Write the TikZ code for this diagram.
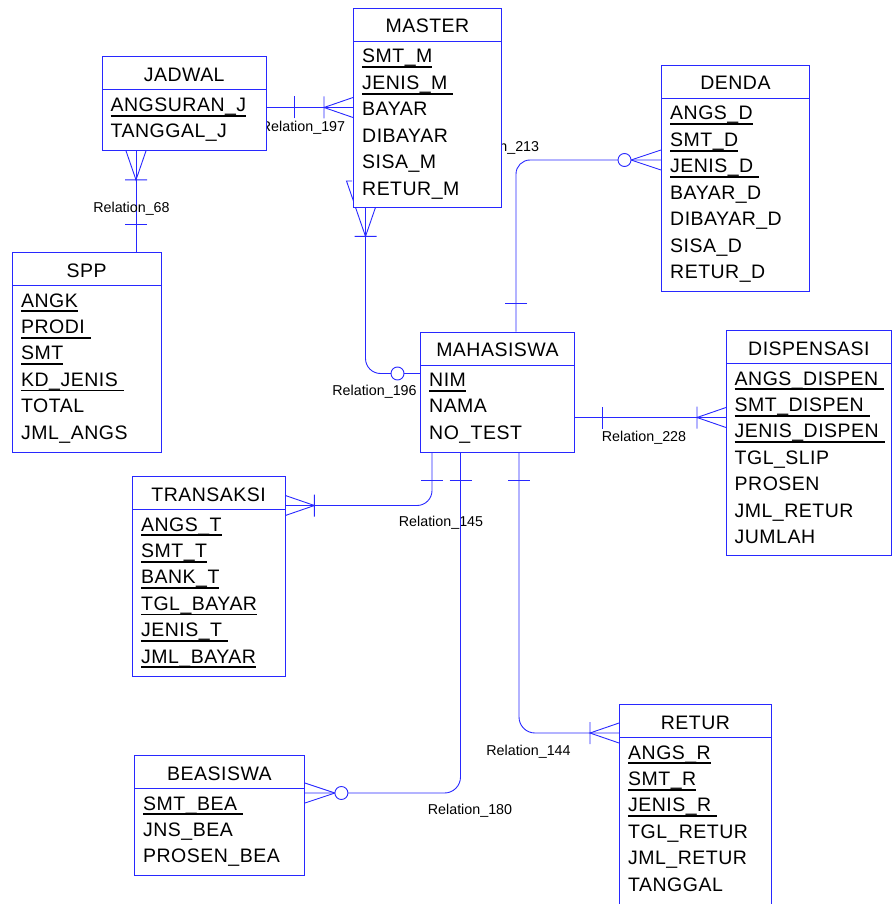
\documentclass[tikz,border=0pt]{standalone}
\usepackage{fontspec}
\setmainfont{Liberation Sans}
\newfontfamily\erfont[LetterSpace=2.5]{Liberation Sans}
\usepackage{xcolor}
\usetikzlibrary{positioning, backgrounds}

\definecolor{erblue}{RGB}{40,40,255}
\newcommand{\pkey}[1]{\setbox0\hbox{#1}\rlap{\rule[-5.2pt]{\wd0}{1.8pt}}\box0}

\begin{document}
\begin{tikzpicture}[
        x=1pt, y=-1pt,
        rel/.style={draw=erblue, line width=.9pt},
        ent/.style={rel, fill=white, anchor=north west, inner sep=0pt,
          path picture={\draw[rel] ([yshift=-33pt]path picture bounding box.north west)
            -- ([yshift=-33pt]path picture bounding box.north east);}},
        ttl/.style={anchor=base, inner sep=0pt, font=\erfont\fontsize{19.5}{20}\selectfont},
        att/.style={anchor=base west, inner sep=0pt, font=\erfont\fontsize{19.5}{20}\selectfont},
        lbl/.style={anchor=base, inner sep=0pt, font=\fontsize{14.3}{15}\selectfont},
        one/.pic={\draw[rel, sharp corners] (-28pt,11pt) -- (-28pt,-11pt);},
        ring/.pic={\draw[rel, fill=white] (-22.5pt,0pt) circle (6.5pt);},
        crow/.pic={\draw[rel, sharp corners] (0pt,10pt) -- (-29pt,0pt) -- (0pt,-10pt)
          (-29pt,11pt) -- (-29pt,-11pt);},
        crowring/.pic={\draw[rel, sharp corners] (0pt,10pt) -- (-30pt,0pt) -- (0pt,-10pt);
          \draw[rel, fill=white] (-36.5pt,0pt) circle (6.5pt);},
      ]

      \useasboundingbox (0,0) rectangle (891,904);

      % entities
      \node[ent, minimum width=148pt, minimum height=198.5pt] (master) at (353,8) {};
      \node[ttl] (masterT) at ([yshift=-25pt]master.north) {MASTER};
      \foreach \a [count=\i from 0] in {\pkey{SMT\_M}, \pkey{JENIS\_M\ }, BAYAR, DIBAYAR, SISA\_M, RETUR\_M}
        \node[att] (master\i) at ([xshift=9pt, yshift=-55pt-26.4pt*\i]master.north west) {\a};

      \node[ent, minimum width=164.5pt, minimum height=93.5pt] (jadwal) at (101.5,56.5) {};
      \node[ttl] (jadwalT) at ([yshift=-25pt]jadwal.north) {JADWAL};
      \foreach \a [count=\i from 0] in {\pkey{ANGSURAN\_J}, TANGGAL\_J}
        \node[att] (jadwal\i) at ([xshift=9pt, yshift=-55pt-26.4pt*\i]jadwal.north west) {\a};

      \node[ent, minimum width=148pt, minimum height=226pt] (denda) at (661,65) {};
      \node[ttl] (dendaT) at ([yshift=-25pt]denda.north) {DENDA};
      \foreach \a [count=\i from 0] in {\pkey{ANGS\_D}, \pkey{SMT\_D}, \pkey{JENIS\_D\ }, BAYAR\_D, DIBAYAR\_D, SISA\_D, RETUR\_D}
        \node[att] (denda\i) at ([xshift=9pt, yshift=-55pt-26.4pt*\i]denda.north west) {\a};

      \node[ent, minimum width=148.5pt, minimum height=199.5pt] (spp) at (12,252) {};
      \node[ttl] (sppT) at ([yshift=-25pt]spp.north) {SPP};
      \foreach \a [count=\i from 0] in {\pkey{ANGK}, \pkey{PRODI\ }, \pkey{SMT}, \pkey{KD\_JENIS\ }, TOTAL, JML\_ANGS}
        \node[att] (spp\i) at ([xshift=9pt, yshift=-55pt-26.4pt*\i]spp.north west) {\a};

      \node[ent, minimum width=154pt, minimum height=120pt] (mahasiswa) at (420,331.5) {};
      \node[ttl] (mahasiswaT) at ([yshift=-25pt]mahasiswa.north) {MAHASISWA};
      \foreach \a [count=\i from 0] in {\pkey{NIM}, NAMA, NO\_TEST}
        \node[att] (mahasiswa\i) at ([xshift=9pt, yshift=-55pt-26.4pt*\i]mahasiswa.north west) {\a};

      \node[ent, minimum width=165pt, minimum height=225pt] (dispensasi) at (726,330) {};
      \node[ttl] (dispensasiT) at ([yshift=-25pt]dispensasi.north) {DISPENSASI};
      \foreach \a [count=\i from 0] in {\pkey{ANGS\_DISPEN\ }, \pkey{SMT\_DISPEN\ }, \pkey{JENIS\_DISPEN\ }, TGL\_SLIP, PROSEN, JML\_RETUR, JUMLAH}
        \node[att] (dispensasi\i) at ([xshift=8.5pt, yshift=-55pt-26.4pt*\i]dispensasi.north west) {\a};

      \node[ent, minimum width=152.5pt, minimum height=200pt] (transaksi) at (132,476) {};
      \node[ttl] (transaksiT) at ([yshift=-25pt]transaksi.north) {TRANSAKSI};
      \foreach \a [count=\i from 0] in {\pkey{ANGS\_T}, \pkey{SMT\_T}, \pkey{BANK\_T}, \pkey{TGL\_BAYAR}, \pkey{JENIS\_T\ }, \pkey{JML\_BAYAR}}
        \node[att] (transaksi\i) at ([xshift=9pt, yshift=-55pt-26.4pt*\i]transaksi.north west) {\a};

      \node[ent, minimum width=170pt, minimum height=120pt] (beasiswa) at (134,755) {};
      \node[ttl] (beasiswaT) at ([yshift=-25pt]beasiswa.north) {BEASISWA};
      \foreach \a [count=\i from 0] in {\pkey{SMT\_BEA\ }, JNS\_BEA, PROSEN\_BEA}
        \node[att] (beasiswa\i) at ([xshift=9pt, yshift=-55pt-26.4pt*\i]beasiswa.north west) {\a};

      \node[ent, minimum width=152pt, minimum height=199.5pt] (retur) at (619,704) {};
      \node[ttl] (returT) at ([yshift=-25pt]retur.north) {RETUR};
      \foreach \a [count=\i from 0] in {\pkey{ANGS\_R}, \pkey{SMT\_R}, \pkey{JENIS\_R\ }, TGL\_RETUR, JML\_RETUR, TANGGAL}
        \node[att] (retur\i) at ([xshift=9pt, yshift=-55pt-26.4pt*\i]retur.north west) {\a};

      % relations
      \begin{pgfonlayer}{background}
        \draw[rel] (jadwal.east |- 0,107.5) -- (master.west |- 0,107.5);
        \pic[rotate=180] at (jadwal.east |- 0,107.5) {one};
        \pic at (master.west |- 0,107.5) {crow};
        \node[lbl] (r197) at (303,132) {Relation\_197};

        \draw[rel] (136,0 |- jadwal.south) -- (136,0 |- spp.north);
        \pic[rotate=90] at (136,0 |- jadwal.south) {crow};
        \pic[rotate=-90] at (136,0 |- spp.north) {one};
        \node[lbl] (r68) at (131.5,212) {Relation\_68};

        \draw[rel, rounded corners=15pt] (365.5,0 |- master.south) -- (365.5,373.5)
          -- (mahasiswa.west |- 0,373.5);
        \draw[rel] (352,181) -- (346.5,181) -- (355.5,207);
        \pic[rotate=90] at (365.5,0 |- master.south) {crow};
        \pic at (mahasiswa.west |- 0,373.5) {ring};
        \node[lbl] (r196) at (374.5,395) {Relation\_196};

        \draw[rel, rounded corners=14pt] (516,0 |- mahasiswa.north) -- (516,160)
          -- (denda.west |- 0,160);
        \pic[rotate=-90] at (516,0 |- mahasiswa.north) {one};
        \pic at (denda.west |- 0,160) {crowring};
        \node[lbl] (r213) at (497,151.5) {Relation\_213};

        \draw[rel] (mahasiswa.east |- 0,417.5) -- (dispensasi.west |- 0,417.5);
        \pic[rotate=180] at (mahasiswa.east |- 0,417.5) {one};
        \pic at (dispensasi.west |- 0,417.5) {crow};
        \node[lbl] (r228) at (644,441.5) {Relation\_228};

        \draw[rel, rounded corners=15pt] (432,0 |- mahasiswa.south) -- (432,505.5)
          -- (transaksi.east |- 0,505.5);
        \pic[rotate=90] at (432,0 |- mahasiswa.south) {one};
        \pic[rotate=180] at (transaksi.east |- 0,505.5) {crow};
        \node[lbl] (r145) at (441,526.5) {Relation\_145};

        \draw[rel, rounded corners=16pt] (460.5,0 |- mahasiswa.south) -- (460.5,793)
          -- (beasiswa.east |- 0,793);
        \pic[rotate=90] at (460.5,0 |- mahasiswa.south) {one};
        \pic[rotate=180] at (beasiswa.east |- 0,793) {crowring};
        \node[lbl] (r180) at (470,814) {Relation\_180};

        \draw[rel, rounded corners=16pt] (519,0 |- mahasiswa.south) -- (519,733)
          -- (retur.west |- 0,733);
        \pic[rotate=90] at (519,0 |- mahasiswa.south) {one};
        \pic at (retur.west |- 0,733) {crow};
        \node[lbl] (r144) at (528.5,755) {Relation\_144};
      \end{pgfonlayer}

    \end{tikzpicture}
\end{document}
